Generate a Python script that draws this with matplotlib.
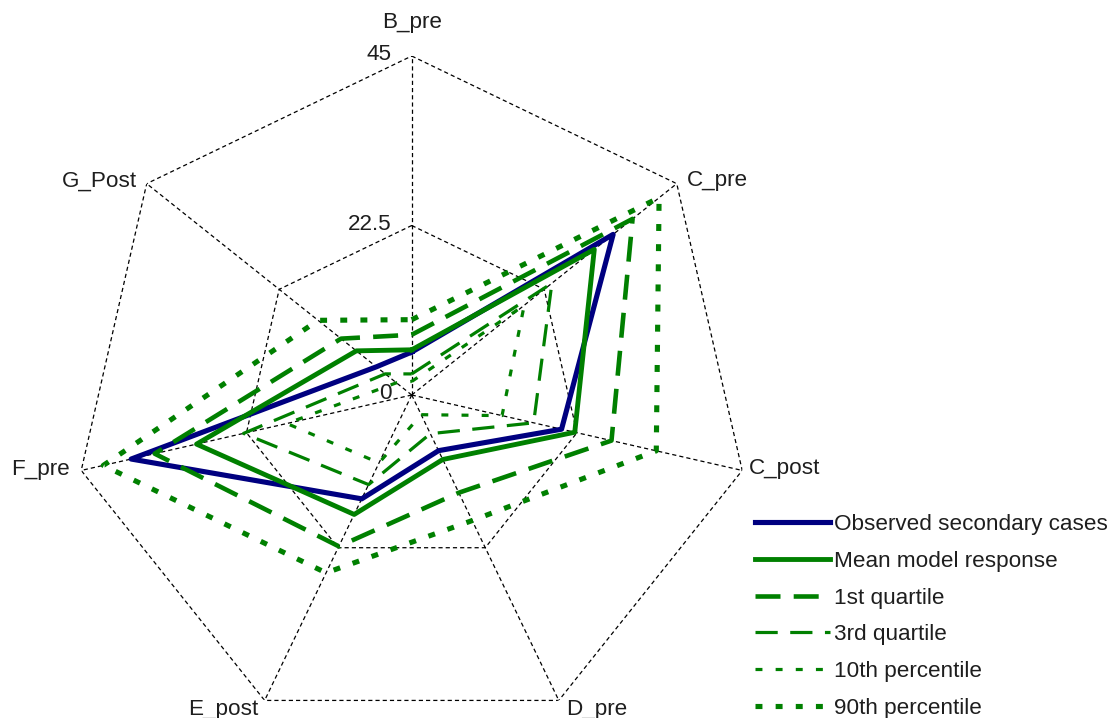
import numpy as np
import matplotlib.pyplot as plt

plt.rcParams['font.family'] = ['Liberation Sans', 'DejaVu Sans']
plt.rcParams['lines.scale_dashes'] = False

categories = ['B_pre', 'C_pre', 'C_post', 'D_pre', 'E_post', 'F_pre', 'G_Post']

observed = [5.7, 34.2, 20.4, 8.2, 15.3, 38.2, 6.0]
mean_model = [6.0, 31.0, 22.2, 9.5, 17.6, 29.3, 9.4]
quartile_1 = [8.0, 37.5, 27.2, 14.4, 22.3, 35.0, 12.0]
quartile_3 = [2.8, 23.8, 16.6, 5.7, 13.2, 22.9, 4.5]
pct_10 = [1.8, 19.1, 12.3, 2.9, 10.0, 17.0, 2.6]
pct_90 = [10.0, 42.0, 33.3, 18.5, 26.2, 42.0, 15.9]

ticks = [0, 22.5, 45]
tick_labels = ['0', '22.5', '45']

# label offsets in points (dx, dy, ha)
label_pos = {
    'B_pre': (0, 24, 'center'),
    'C_pre': (7.5, 2.5, 'left'),
    'C_post': (4.5, 1.5, 'left'),
    'D_pre': (5, -6.5, 'left'),
    'E_post': (-4.5, -6.5, 'right'),
    'F_pre': (-8.5, 1.0, 'right'),
    'G_Post': (-7, 2.0, 'right'),
}

green = '#008000'
navy = '#000080'
txt = '#1e1e1e'
fs = 16.2

n = len(categories)
angles = np.linspace(0, 2 * np.pi, n, endpoint=False)
closed = np.append(angles, angles[0])

fig = plt.figure(figsize=(11.12, 7.18), dpi=100)
ax = fig.add_axes([0.0654, -0.0223, 0.6097, 0.9443], projection='polar')
ax.set_theta_zero_location('N')
ax.set_theta_direction(-1)
ax.set_ylim(0, ticks[-1])
ax.set_xticks([])
ax.set_yticks([])
ax.grid(False)
ax.spines['polar'].set_visible(False)
ax.patch.set_visible(False)

# heptagon grid + spokes
for r in ticks[1:]:
    ax.plot(closed, [r] * (n + 1), color='black', lw=0.9, dashes=(3, 2.2), zorder=1)
for a in angles:
    ax.plot([a, a], [0, ticks[-1]], color='black', lw=0.9, dashes=(3, 2.2), zorder=1)

def close(v):
    return list(v) + [v[0]]

ax.plot(closed, close(observed), color=navy, lw=3.7, label='Observed secondary cases', zorder=3)
ax.plot(closed, close(mean_model), color=green, lw=3.5, label='Mean model response', zorder=4)
ax.plot(closed, close(quartile_1), color=green, lw=3.3, dashes=(18, 9.5), label='1st quartile', zorder=5)
ax.plot(closed, close(quartile_3), color=green, lw=2.3, dashes=(16, 9), label='3rd quartile', zorder=5)
ax.plot(closed, close(pct_10), color=green, lw=2.3, dashes=(5, 9.5), label='10th percentile', zorder=5)
ax.plot(closed, close(pct_90), color=green, lw=3.7, dashes=(5, 9.5), label='90th percentile', zorder=5)

for cat, a in zip(categories, angles):
    dx, dy, ha = label_pos[cat]
    ax.annotate(cat, xy=(a, ticks[-1]), xytext=(dx, dy), textcoords='offset points',
                ha=ha, va='center', fontsize=fs, color=txt, annotation_clip=False)

for t, lab in zip(ticks, tick_labels):
    ax.annotate(lab, xy=(0, t), xytext=(-14.5, 1), textcoords='offset points',
                ha='right', va='center', fontsize=fs, color=txt, annotation_clip=False)

fig.legend(loc='upper left', bbox_to_anchor=(0.679, 0.284), frameon=False,
           fontsize=fs, handlelength=3.35, handletextpad=0.17, labelspacing=0.7,
           borderpad=0, borderaxespad=0, labelcolor=txt)

fig.savefig('out.png', dpi=100)
